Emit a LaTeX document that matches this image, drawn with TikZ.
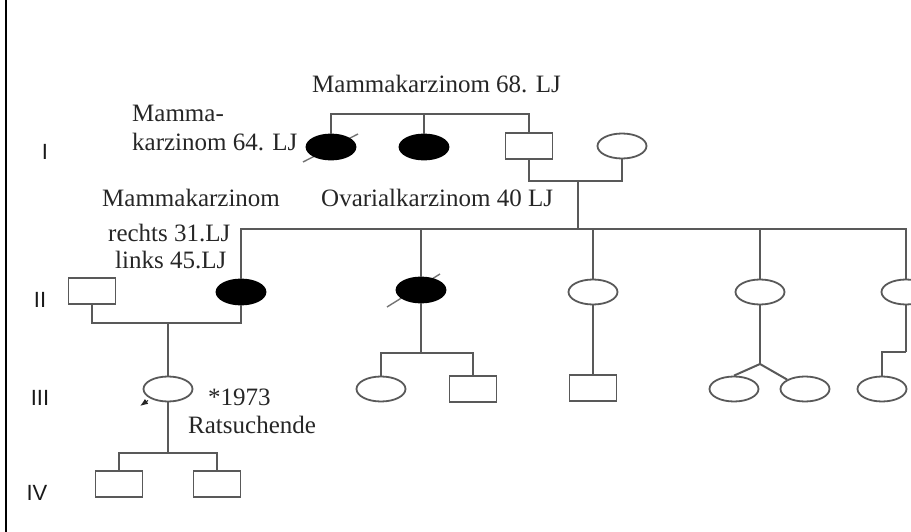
\documentclass[tikz,border=0pt]{standalone}
\usepackage{fontspec}
\setmainfont{Liberation Serif}
\newfontfamily\genfont{Liberation Sans}
\usepackage{tikz}
\usetikzlibrary{shapes.geometric,arrows.meta,calc}

\begin{document}
\begin{tikzpicture}[x=1pt, y=-1pt,
  every node/.style={font=\fontsize{25}{28}\selectfont},
  link/.style={draw=black!65, line width=2pt},
  slash/.style={draw=black!55, line width=1.4pt},
  fem/.style={draw=black!65, line width=1.8pt, ellipse, minimum width=49pt, minimum height=25pt, inner sep=0pt},
  mal/.style={draw=black!65, line width=1.8pt, rectangle, minimum width=47pt, minimum height=26pt, inner sep=0pt},
  aff/.style={fill=black, draw=black},
  txt/.style={anchor=base west, inner sep=0pt, text=black!85},
  gen/.style={font=\genfont\fontsize{22}{24}\selectfont, text=black!90, inner sep=0pt}]
  \useasboundingbox (0,0) rectangle (911,532);
  \clip (0,0) rectangle (911,532);
  \draw[line width=2pt] (6,0) -- (6,532);

  % generations
  \node[gen] (gI) at (45,152) {I};
  \node[gen] (gII) at (40,300) {II};
  \node[gen] (gIII) at (40,398) {III};
  \node[gen] (gIV) at (37,493) {IV};

  % deceased marks, drawn below the symbols
  \coordinate (pa1) at (331,147);
  \coordinate (pb3) at (421,290);
  \draw[slash] ($(pa1)+(-28,15)$) -- ($(pa1)+(27,-13)$);
  \draw[slash] ($(pb3)+(-34,17)$) -- ($(pb3)+(19,-16)$);

  % generation I
  \node[fem, aff] (a1) at (pa1) {};
  \node[fem, aff] (a2) at (424,147) {};
  \node[mal] (a3) at (529,146) {};
  \node[fem] (a4) at (622,146) {};

  % generation II
  \node[mal] (b1) at (92,291) {};
  \node[fem, aff] (b2) at (241,292) {};
  \node[fem, aff] (b3) at (pb3) {};
  \node[fem] (b4) at (593,292) {};
  \node[fem] (b5) at (760,292) {};
  \node[fem] (b6) at (906,292) {};

  % generation III
  \node[fem] (c1) at (168,389) {};
  \node[fem] (c2) at (381,389) {};
  \node[mal] (c3) at (473,389) {};
  \node[mal] (c4) at (593,388) {};
  \node[fem] (c5) at (734,389) {};
  \node[fem] (c6) at (805,389) {};
  \node[fem] (c7) at (882,389) {};

  % generation IV
  \node[mal] (d1) at (119,484) {};
  \node[mal] (d2) at (217,484) {};

  % lines of descent
  \coordinate (sibI) at (0,114);
  \draw[link] (a1.north) -- (a1.north |- sibI) -| (a3.north);
  \draw[link] (a2.north) -- (a2.north |- sibI);
  \coordinate (marI) at (578,181);
  \draw[link] (a3.south) |- (marI) -| (a4.south);
  \coordinate (sibII) at (578,229);
  \draw[link] (marI) -- (sibII);
  \draw[link] (b2.north) |- (b6.north |- sibII) -- (b6.north);
  \foreach \n in {b3,b4,b5}
    \draw[link] (\n.north) -- (\n.north |- sibII);

  \coordinate (marII) at (168,323);
  \draw[link] (b1.south) |- (marII) -| (b2.south);
  \draw[link] (marII) -- (c1.north);

  \coordinate (sibIIIb) at (421,353);
  \draw[link] (b3.south) -- (sibIIIb);
  \draw[link] (c2.north) |- (sibIIIb) -| (c3.north);
  \draw[link] (b4.south) -- (c4.north);
  \coordinate (twin) at (760,364);
  \draw[link] (b5.south) -- (twin);
  \draw[link] (twin) -- (c5.north);
  \draw[link] (twin) -- (c6.north west);
  \coordinate (sibIIIe) at (906,352);
  \draw[link] (b6.south) -- (sibIIIe);
  \draw[link] (c7.north) |- (sibIIIe);

  \coordinate (sibIV) at (168,453);
  \draw[link] (c1.south) -- (sibIV);
  \draw[link] (d1.north) |- (sibIV) -| (d2.north);

  % proband
  \coordinate (pb) at (140,406);
  \draw[draw=black!85, line width=1pt, -{Latex[length=8pt,width=6pt]}] ($(c1.south west)+(-2,2)$) -- (pb);

  % labels
  \node[txt] (t68) at (312,93) {Mammakarzinom 68. LJ};
  \node[txt] (t64a) at (132,122) {Mamma-};
  \node[txt] (t64b) at (132,151) {karzinom 64. LJ};
  \node[txt] (tov) at (321,207) {Ovarialkarzinom 40 LJ};
  \node[txt] (tmk) at (102,207) {Mammakarzinom};
  \node[txt] (tre) at (108,241) {rechts 31.LJ};
  \node[txt] (tli) at (115,268) {links 45.LJ};
  \node[txt] (tyr) at (208,405) {*1973};
  \node[txt] (trs) at (188,433) {Ratsuchende};
\end{tikzpicture}
\end{document}
